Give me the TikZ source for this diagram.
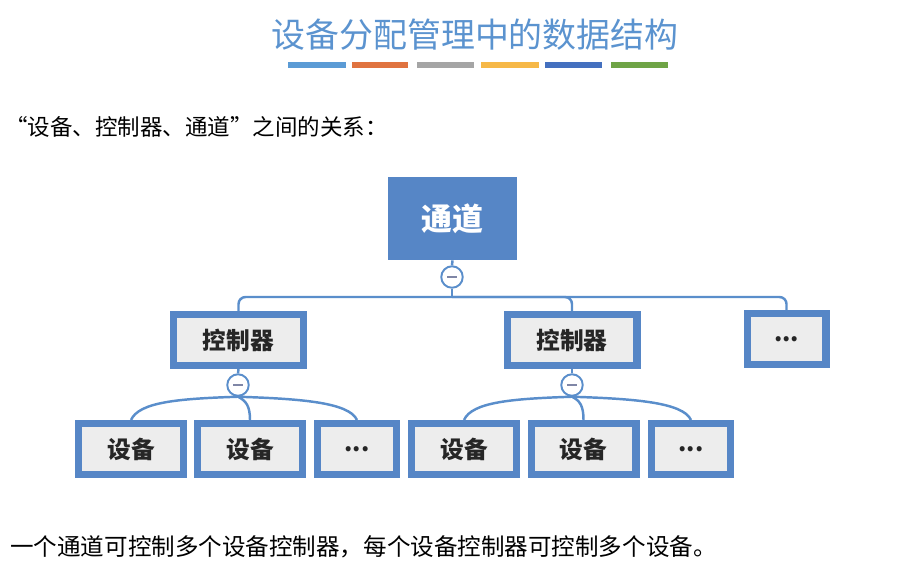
\documentclass[tikz,border=0pt]{standalone}
\usepackage{fontspec}
\setmainfont{Noto Sans CJK SC}
\usetikzlibrary{positioning}

\definecolor{titleblue}{HTML}{5B93CF}
\definecolor{boxblue}{HTML}{5686C6}
\definecolor{linkblue}{HTML}{5A8ECB}
\definecolor{boxgray}{HTML}{EDEDED}
\definecolor{minusgray}{HTML}{7F86A6}
\definecolor{barA}{HTML}{5B9BD5}
\definecolor{barB}{HTML}{E0733F}
\definecolor{barC}{HTML}{A5A5A5}
\definecolor{barD}{HTML}{F6B847}
\definecolor{barE}{HTML}{4470BF}
\definecolor{barF}{HTML}{6FA446}

\begin{document}
\begin{tikzpicture}[x=0.02cm, y=-0.02cm,
    box/.style={draw=boxblue, line width=4pt, fill=boxgray, inner sep=0pt,
      minimum height=1.02cm, text=black!85, font=\fontsize{13.5}{16}\selectfont\bfseries},
    wide/.style={box, minimum width=2.6cm},
    dev/.style={box, minimum width=2.1cm},
    more/.style={box, minimum width=1.58cm},
    minus/.style={circle, draw=linkblue, line width=1.1pt, fill=white,
      minimum size=0.43cm, inner sep=0pt,
      path picture={\draw[minusgray, line width=1.4pt]
        ([xshift=-2.8pt]path picture bounding box.center) --
        ([xshift=2.8pt]path picture bounding box.center);}},
    link/.style={linkblue, line width=1.4pt},
  ]
  \useasboundingbox (0,0) rectangle (918,583);

  % Heading
  \node[text=titleblue, font=\fontsize{19.3}{23}\selectfont] (title) at (475,35) {设备分配管理中的数据结构};
  \foreach \xa/\xb/\col in {288/346/barA, 352/408/barB, 417/474/barC,
                            481/539/barD, 545/602/barE, 611/668/barF}
    \draw[\col, line width=3pt] (\xa,65) -- (\xb,65);
  \node[anchor=west, inner sep=0pt, font=\fontsize{12.8}{15}\selectfont] (intro) at (5,127)
    {“设备、控制器、通道”之间的关系：};

  % Channel
  \node[fill=boxblue, minimum width=2.58cm, minimum height=1.66cm, text=white,
        font=\fontsize{17.6}{20}\selectfont\bfseries] (chan) at (452.5,218.5) {通道};
  \node[minus] (m0) at (452,277) {};

  % Controllers
  \node[wide] (ctrlA) at (238.5,340) {控制器};
  \node[wide] (ctrlB) at (572,340) {控制器};
  \node[more] (ctrlC) at (786.5,339) {...};
  \node[minus] (mA) at (238,385) {};
  \node[minus] (mB) at (572,385) {};

  % Devices
  \node[dev]  (devA) at (131,449) {设备};
  \node[dev]  (devB) at (250,449) {设备};
  \node[more] (devC) at (357,449) {...};
  \node[dev]  (devD) at (464,449) {设备};
  \node[dev]  (devE) at (583.5,449) {设备};
  \node[more] (devF) at (691,449) {...};

  % Links
  \coordinate (bus) at (452,297);
  \draw[link] (chan.south) -- (m0.north);
  \draw[link] (m0.south) -- (bus);
  \draw[link, rounded corners=4pt] (ctrlA.north) |- (bus) -| (ctrlC.north);
  \draw[link, rounded corners=4pt] (bus) -| (ctrlB.north);
  \draw[link] (ctrlA.south) -- (mA.north);
  \draw[link] (ctrlB.south) -- (mB.north);
  \draw[link] (mA.south) .. controls +(-60,2) and +(8,-18) .. (devA.north);
  \draw[link] (mA.south) .. controls +(8,4) and +(0,-14) .. (devB.north);
  \draw[link] (mA.south) .. controls +(60,2) and +(-8,-18) .. (devC.north);
  \draw[link] (mB.south) .. controls +(-60,2) and +(8,-18) .. (devD.north);
  \draw[link] (mB.south) .. controls +(8,4) and +(0,-14) .. (devE.north);
  \draw[link] (mB.south) .. controls +(60,2) and +(-8,-18) .. (devF.north);

  % Summary
  \node[anchor=west, inner sep=0pt, font=\fontsize{13.4}{16}\selectfont] (note) at (10,547)
    {一个通道可控制多个设备控制器，每个设备控制器可控制多个设备。};
\end{tikzpicture}
\end{document}
